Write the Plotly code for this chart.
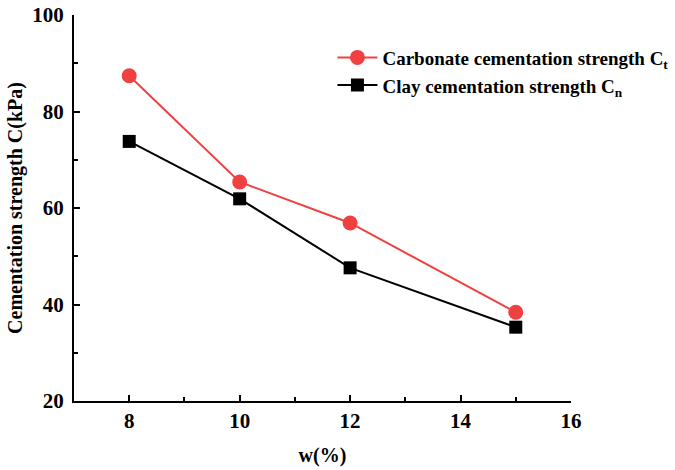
import plotly.graph_objects as go

# Water content (%) and cementation strength (kPa)
w = [8, 10, 12, 15]
carbonate_ct = [87.4, 65.4, 56.9, 38.4]
clay_cn = [73.8, 61.9, 47.6, 35.3]

x_ticks = [8, 10, 12, 14, 16]
y_ticks = [20, 40, 60, 80, 100]

FONT = "Liberation Serif, Times New Roman, serif"
RED = "#F04040"

fig = go.Figure()
fig.add_trace(go.Scatter(
    x=w, y=carbonate_ct, mode="lines+markers",
    name="<b>Carbonate cementation strength C<sub>t</sub></b>",
    line=dict(color=RED, width=2),
    marker=dict(symbol="circle", size=15, color=RED),
))
fig.add_trace(go.Scatter(
    x=w, y=clay_cn, mode="lines+markers",
    name="<b>Clay cementation strength C<sub>n</sub></b>",
    line=dict(color="black", width=2),
    marker=dict(symbol="square", size=13, color="black"),
))

axis_common = dict(
    showline=True, linecolor="black", linewidth=2,
    ticks="inside", ticklen=6, tickwidth=2, tickcolor="black",
    showgrid=False, zeroline=False, automargin=False,
    tickfont=dict(family=FONT, size=21, color="black"),
)

fig.update_layout(
    width=675, height=470,
    margin=dict(l=74, r=104, t=15, b=69, autoexpand=False),
    plot_bgcolor="white", paper_bgcolor="white",
    font=dict(family=FONT, color="black"),
    xaxis=dict(
        range=[7, 16], tickvals=x_ticks,
        ticktext=[f"<b>{v}</b>" for v in x_ticks],
        minor=dict(tickvals=[9, 11, 13, 15], ticks="inside", ticklen=4,
                   tickwidth=2, tickcolor="black"),
        title=dict(text="<b>w(%)</b>", font=dict(family=FONT, size=20), standoff=16),
        **axis_common,
    ),
    yaxis=dict(
        range=[20, 100], tickvals=y_ticks,
        ticktext=[f"<b>{v}</b>" for v in y_ticks],
        ticklabelstandoff=4,
        minor=dict(tickvals=[30, 50, 70, 90], ticks="inside", ticklen=4,
                   tickwidth=2, tickcolor="black"),
        title=dict(text="<b>Cementation strength C(kPa)</b>", font=dict(family=FONT, size=20),
                   standoff=4),
        **axis_common,
    ),
    legend=dict(
        x=0.52, y=0.939, xanchor="left", yanchor="top",
        bgcolor="rgba(0,0,0,0)",
        font=dict(family=FONT, size=19, color="black"),
        itemwidth=40,
    ),
    showlegend=True,
)

fig.write_html("out.html")
